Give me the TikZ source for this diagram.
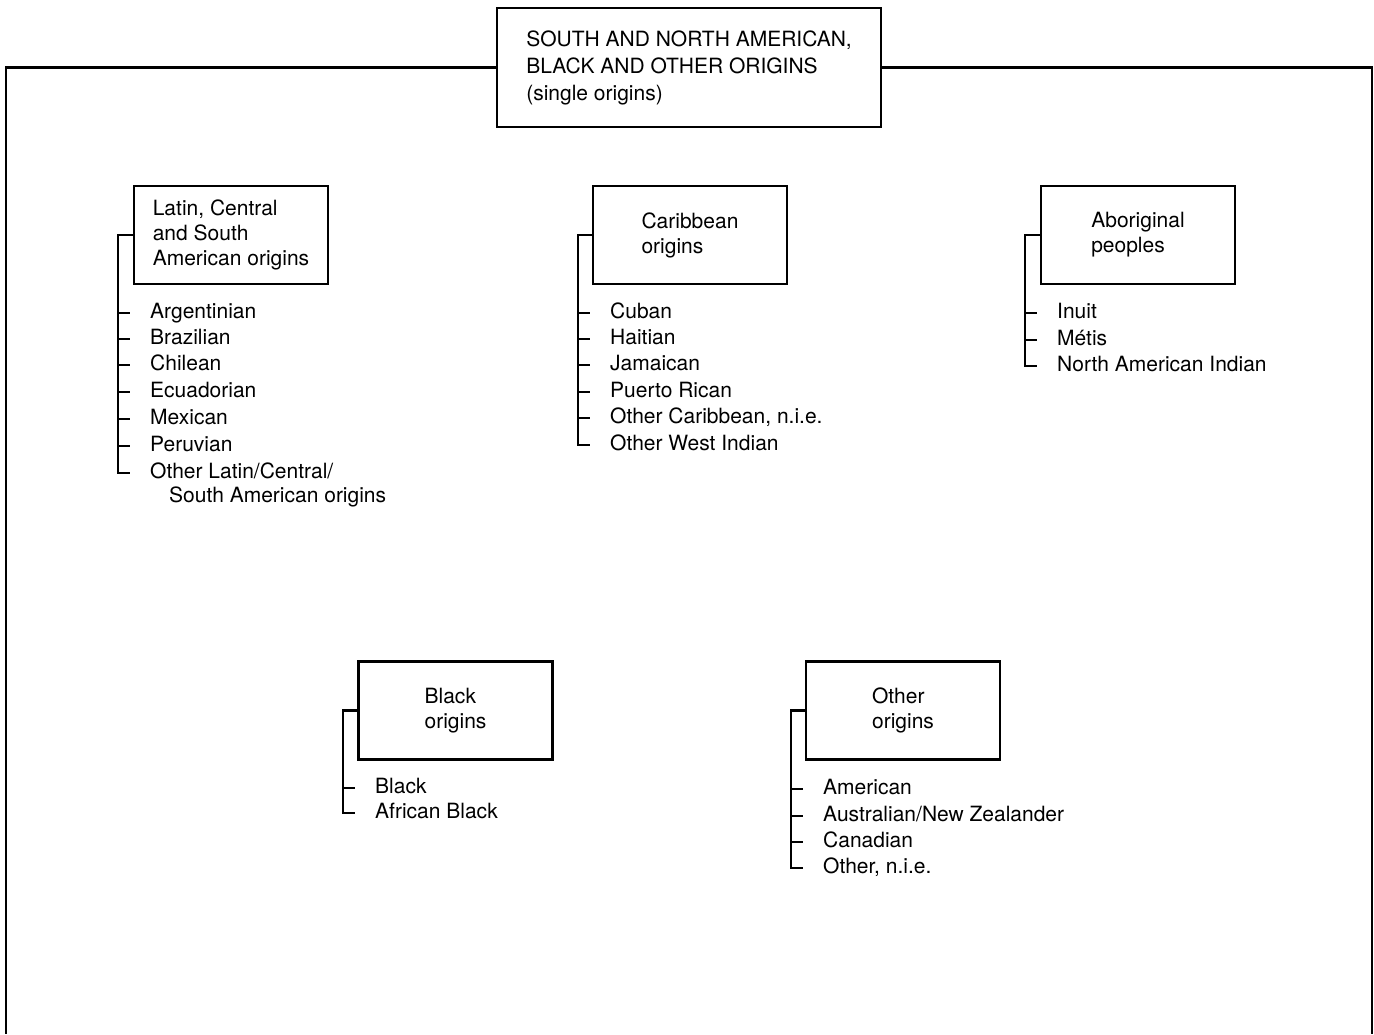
\documentclass[tikz,border=0pt]{standalone}
\usepackage{fontspec}
\setmainfont{TeX Gyre Heros}
\tikzset{
  catbox/.style={draw,line width=2.2pt,minimum width=194pt,minimum height=98pt,align=left,font=\fontsize{21}{25}\selectfont},
  item/.style={anchor=west,inner sep=0pt,text height=14pt,text depth=4pt,font=\fontsize{21}{25}\selectfont},
  branch/.style={line width=2.2pt},
}
\begin{document}
\begin{tikzpicture}[x=1pt,y=1pt,yscale=-1]
\useasboundingbox (0,0) rectangle (1374,1034);

%Shape: Title box
\node [catbox,minimum width=384pt,minimum height=119pt,font=\fontsize{21}{27}\selectfont] (top) at (689,67.5) {SOUTH AND NORTH AMERICAN,\\BLACK AND OTHER ORIGINS\\(single origins)};
%Straight Lines: frame
\draw [branch] (top.west) -| (6,1034);
\draw [branch] (top.east) -| (1372,1034);

%Shape: Latin box
\node [catbox] (lcs) at (231,235) {Latin, Central\\and South\\American origins};
% Text Node
\node [item] (l1) at (150,313) {Argentinian};
\node [item] (l2) at (150,339) {Brazilian};
\node [item] (l3) at (150,365) {Chilean};
\node [item] (l4) at (150,392) {Ecuadorian};
\node [item] (l5) at (150,419) {Mexican};
\node [item] (l6) at (150,446) {Peruvian};
\node [item] (l7) at (150,473) {Other Latin/Central/};
\node [item] (l8) at (169,497) {South American origins};
%Straight Lines
\draw [branch] (lcs.west) -| ([xshift=-32pt]l7.west) -- ++(12,0);
\draw [branch] (l1.west) ++(-32,0) -- ++(12,0);
\draw [branch] (l2.west) ++(-32,0) -- ++(12,0);
\draw [branch] (l3.west) ++(-32,0) -- ++(12,0);
\draw [branch] (l4.west) ++(-32,0) -- ++(12,0);
\draw [branch] (l5.west) ++(-32,0) -- ++(12,0);
\draw [branch] (l6.west) ++(-32,0) -- ++(12,0);

%Shape: Caribbean box
\node [catbox] (car) at (690,235) {Caribbean\\origins};
% Text Node
\node [item] (c1) at (610,313) {Cuban};
\node [item] (c2) at (610,339) {Haitian};
\node [item] (c3) at (610,365) {Jamaican};
\node [item] (c4) at (610,392) {Puerto Rican};
\node [item] (c5) at (610,418) {Other Caribbean, n.i.e.};
\node [item] (c6) at (610,445) {Other West Indian};
%Straight Lines
\draw [branch] (car.west) -| ([xshift=-32pt]c6.west) -- ++(12,0);
\draw [branch] (c1.west) ++(-32,0) -- ++(12,0);
\draw [branch] (c2.west) ++(-32,0) -- ++(12,0);
\draw [branch] (c3.west) ++(-32,0) -- ++(12,0);
\draw [branch] (c4.west) ++(-32,0) -- ++(12,0);
\draw [branch] (c5.west) ++(-32,0) -- ++(12,0);

%Shape: Aboriginal box
\node [catbox] (abo) at (1138,235) {Aboriginal\\peoples};
% Text Node
\node [item] (a1) at (1057,313) {Inuit};
\node [item] (a2) at (1057,340) {Métis};
\node [item] (a3) at (1057,366) {North American Indian};
%Straight Lines
\draw [branch] (abo.west) -| ([xshift=-32pt]a3.west) -- ++(12,0);
\draw [branch] (a1.west) ++(-32,0) -- ++(12,0);
\draw [branch] (a2.west) ++(-32,0) -- ++(12,0);

%Shape: Black box
\node [catbox] (blk) at (455.5,710.5) {Black\\origins};
% Text Node
\node [item] (b1) at (375,788) {Black};
\node [item] (b2) at (375,813) {African Black};
%Straight Lines
\draw [branch] (blk.west) -| ([xshift=-32pt]b2.west) -- ++(12,0);
\draw [branch] (b1.west) ++(-32,0) -- ++(12,0);

%Shape: Other box
\node [catbox] (oth) at (903,710.5) {Other\\origins};
% Text Node
\node [item] (o1) at (823,789) {American};
\node [item] (o2) at (823,816) {Australian/New Zealander};
\node [item] (o3) at (823,842) {Canadian};
\node [item] (o4) at (823,868) {Other, n.i.e.};
%Straight Lines
\draw [branch] (oth.west) -| ([xshift=-32pt]o4.west) -- ++(12,0);
\draw [branch] (o1.west) ++(-32,0) -- ++(12,0);
\draw [branch] (o2.west) ++(-32,0) -- ++(12,0);
\draw [branch] (o3.west) ++(-32,0) -- ++(12,0);
\end{tikzpicture}
\end{document}
